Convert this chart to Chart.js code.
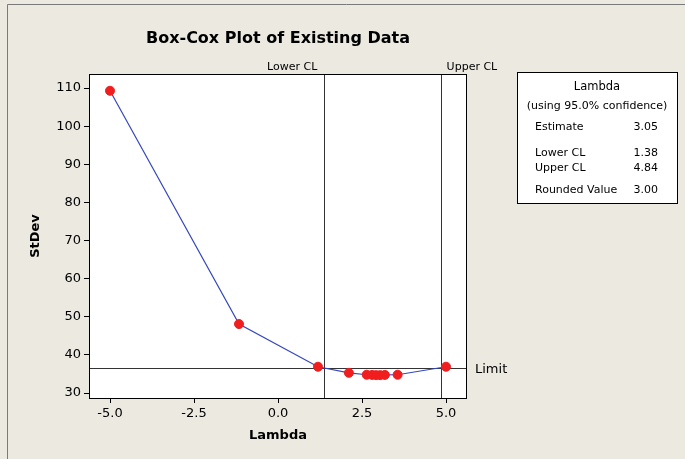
<!DOCTYPE html>
<html>
<head>
<meta charset="utf-8">
<script src="https://cdn.jsdelivr.net/npm/chart.js@4"></script>
<style>
  html, body { margin: 0; padding: 0; background: #ECE9E1; }
  canvas { display: block; }
</style>
</head>
<body>
<canvas id="grafico" width="685" height="459"></canvas>
<script>
// Box-Cox: lambda vs StDev
const lambdas = [-5.0, -1.16, 1.19, 2.11, 2.64, 2.80, 2.92, 3.04, 3.18, 3.56, 5.0];
const stdevs = [109.3, 48.1, 36.9, 35.3, 34.8, 34.75, 34.7, 34.7, 34.75, 34.8, 36.9];
const xTicks = [-5.0, -2.5, 0.0, 2.5, 5.0];
const yTicks = [30, 40, 50, 60, 70, 80, 90, 100, 110];
const clValues = [1.38, 4.84];
const clLabels = ['Lower CL', 'Upper CL'];
const limitValue = 36.5;
const legendTitle = ['Lambda', '(using 95.0% confidence)'];
const legendNames = ['Estimate', 'Lower CL', 'Upper CL', 'Rounded Value'];
const legendValues = ['3.05', '1.38', '4.84', '3.00'];

const FONT = '"DejaVu Sans", Verdana, sans-serif';

// desenho extra: fundo, moldura, linhas CL / Limit, caixa de legenda
const decor = {
    id: 'decor',
    beforeDraw(chart) {
        const ctx = chart.ctx;
        ctx.save();
        ctx.fillStyle = '#ECE9E1';
        ctx.fillRect(0, 0, chart.width, chart.height);
        ctx.strokeStyle = '#7a7a7a';
        ctx.lineWidth = 1;
        ctx.beginPath();
        ctx.moveTo(7.5, chart.height);
        ctx.lineTo(7.5, 4.5);
        ctx.lineTo(chart.width, 4.5);
        ctx.stroke();
        const a = chart.chartArea;
        ctx.fillStyle = '#ffffff';
        ctx.fillRect(a.left, a.top, a.right - a.left, a.bottom - a.top);
        ctx.restore();
    },
    beforeDatasetsDraw(chart) {
        const ctx = chart.ctx;
        const a = chart.chartArea;
        const xs = chart.scales.x, ys = chart.scales.y;
        ctx.save();
        ctx.strokeStyle = '#333';
        ctx.lineWidth = 1;
        clValues.forEach(v => {
            const px = Math.round(xs.getPixelForValue(v)) + 0.5;
            ctx.beginPath();
            ctx.moveTo(px, a.top);
            ctx.lineTo(px, a.bottom);
            ctx.stroke();
        });
        const py = Math.round(ys.getPixelForValue(limitValue)) + 0.5;
        ctx.beginPath();
        ctx.moveTo(a.left, py);
        ctx.lineTo(a.right, py);
        ctx.stroke();
        ctx.restore();
    },
    afterDraw(chart) {
        const ctx = chart.ctx;
        const a = chart.chartArea;
        const xs = chart.scales.x, ys = chart.scales.y;
        ctx.save();
        // borda da área
        ctx.strokeStyle = '#000';
        ctx.lineWidth = 1;
        ctx.strokeRect(Math.round(a.left) + 0.5, Math.round(a.top) + 0.5,
            Math.round(a.right - a.left) - 1, Math.round(a.bottom - a.top));

        // título
        ctx.fillStyle = '#000';
        ctx.font = 'bold 16px ' + FONT;
        ctx.textAlign = 'center';
        ctx.textBaseline = 'alphabetic';
        ctx.fillText('Box-Cox Plot of Existing Data', (a.left + a.right) / 2, 43);

        // rótulos CL
        ctx.font = '11px ' + FONT;
        ctx.textAlign = 'right';
        ctx.fillText(clLabels[0], xs.getPixelForValue(clValues[0]) - 7, a.top - 4);
        ctx.textAlign = 'left';
        ctx.fillText(clLabels[1], xs.getPixelForValue(clValues[1]) + 6, a.top - 4);

        // Limit
        ctx.font = '13px ' + FONT;
        ctx.textBaseline = 'middle';
        ctx.fillText('Limit', a.right + 8, ys.getPixelForValue(limitValue) + 1);

        // caixa de legenda
        const bx = 517, by = 72, bw = 160, bh = 131;
        ctx.fillStyle = '#fff';
        ctx.fillRect(bx, by, bw, bh);
        ctx.strokeStyle = '#000';
        ctx.strokeRect(bx + 0.5, by + 0.5, bw, bh);
        ctx.fillStyle = '#000';
        ctx.font = '11.5px ' + FONT;
        ctx.textBaseline = 'alphabetic';
        ctx.textAlign = 'center';
        ctx.fillText(legendTitle[0], bx + bw / 2, by + 18);
        ctx.font = '11px ' + FONT;
        ctx.fillText(legendTitle[1], bx + bw / 2, by + 37);
        const linhas = [58, 84, 99, 121];
        legendNames.forEach((n, i) => {
            ctx.textAlign = 'left';
            ctx.fillText(n, bx + 18, by + linhas[i]);
            ctx.textAlign = 'right';
            ctx.fillText(legendValues[i], bx + 141, by + linhas[i]);
        });
        ctx.restore();
    }
};

const ctx = document.getElementById('grafico').getContext('2d');
new Chart(ctx, {
    type: 'scatter',
    data: {
        datasets: [{
            data: lambdas.map((l, i) => ({ x: l, y: stdevs[i] })),
            showLine: true,
            borderColor: '#3446C2',
            borderWidth: 1.2,
            backgroundColor: '#F01E1E',
            pointBackgroundColor: '#F01E1E',
            pointBorderColor: '#F01E1E',
            pointRadius: 4.5,
            pointBorderWidth: 1
        }]
    },
    options: {
        responsive: false,
        devicePixelRatio: 1,
        animation: false,
        layout: { padding: { left: 0, top: 74, right: 218, bottom: 0 } },
        plugins: {
            legend: { display: false },
            tooltip: { enabled: false }
        },
        scales: {
            x: {
                type: 'linear',
                min: -5.625,
                max: 5.625,
                afterBuildTicks: s => { s.ticks = xTicks.map(v => ({ value: v })); },
                afterFit: s => { s.height = 61; },
                ticks: {
                    color: '#000',
                    font: { family: FONT, size: 13 },
                    padding: 3,
                    callback: v => Number(v).toFixed(1)
                },
                grid: { drawOnChartArea: false, tickLength: 5, color: '#000' },
                border: { display: false },
                title: {
                    display: true,
                    text: 'Lambda',
                    color: '#000',
                    font: { family: FONT, size: 13, weight: 'bold' },
                    padding: { top: 0, bottom: 16 }
                }
            },
            y: {
                type: 'linear',
                min: 28.7,
                max: 113.7,
                afterBuildTicks: s => { s.ticks = yTicks.map(v => ({ value: v })); },
                afterFit: s => { s.width = 89; },
                ticks: {
                    color: '#000',
                    font: { family: FONT, size: 13 },
                    padding: 3
                },
                grid: { drawOnChartArea: false, tickLength: 5, color: '#000' },
                border: { display: false },
                title: {
                    display: true,
                    text: 'StDev',
                    color: '#000',
                    font: { family: FONT, size: 13, weight: 'bold' },
                    padding: { top: 28, bottom: 0 }
                }
            }
        }
    },
    plugins: [decor]
});
</script>
</body>
</html>
